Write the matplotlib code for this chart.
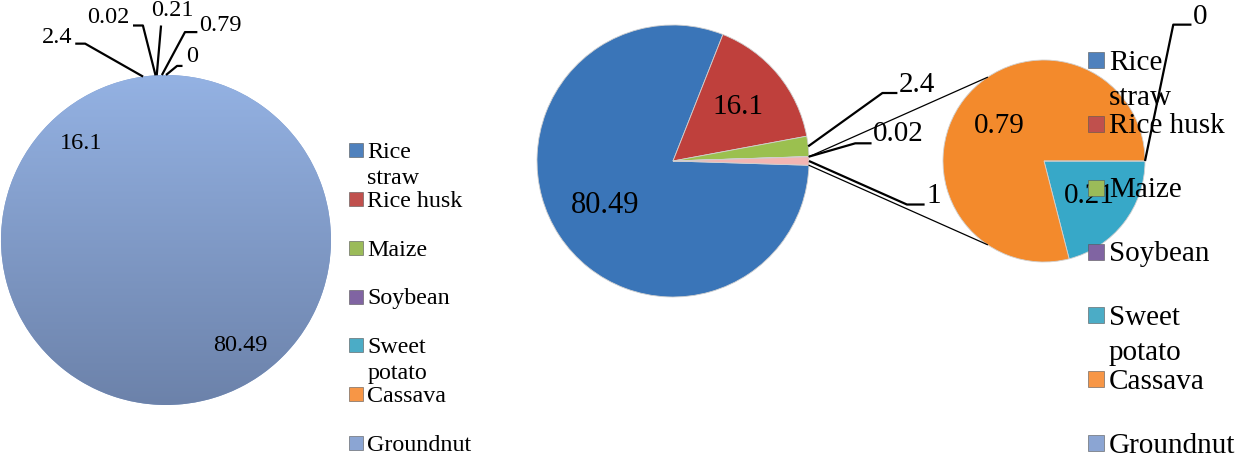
import matplotlib.pyplot as plt
import numpy as np
from matplotlib.patches import ConnectionPatch, Circle
from matplotlib.colors import LinearSegmentedColormap

plt.rcParams['font.family'] = ['Liberation Serif', 'DejaVu Serif']

# crop residue shares (%)
crops = ["Rice straw", "Rice husk", "Maize", "Soybean", "Sweet potato", "Cassava", "Groundnut"]
legend_text = ["Rice\nstraw", "Rice husk", "Maize", "Soybean", "Sweet\npotato", "Cassava", "Groundnut"]
shares = [80.49, 16.1, 2.4, 0.02, 0.21, 0.79, 0]
legend_colors = ["#4F81BD", "#C0504D", "#9BBB59", "#8064A2", "#4BACC6", "#F79646", "#8BA5D3"]

# left chart: every slice came out in the groundnut colour
left_color = "#809DCB"

# right chart: pie of pie, the last three crops grouped as "other"
main_values = [80.49, 16.1, 2.4, 0.02, 1]
main_colors = ["#3A75B8", "#BF403C", "#9BC04F", "#7F60A4", "#F3B5B3"]
sub_values = [0.21, 0.79, 0]
sub_colors = ["#37A8C8", "#F38A2C", "#8EA6D4"]

W, H = 1249, 457
fig = plt.figure(figsize=(W / 100, H / 100), dpi=100)


def pie_axes(cx, cy, r):
    # square axes centred on (cx, cy) in pixels, unit radius = r px
    return fig.add_axes([(cx - r) / W, (H - cy - r) / H, 2 * r / W, 2 * r / H])


def finish(ax):
    ax.set_xlim(-1, 1)
    ax.set_ylim(-1, 1)
    ax.set_aspect('equal')
    ax.axis('off')


def point(w, r=1.0, ang=None):
    if ang is None:
        ang = (w.theta1 + w.theta2) / 2
    a = np.deg2rad(ang)
    return r * np.cos(a), r * np.sin(a)


def leader(ax, w, elbow, hx, txt_xy, ha, fs):
    px, py = point(w)
    ax.plot([px, elbow[0], hx], [py, elbow[1], elbow[1]], color='black', lw=1.6,
            clip_on=False, solid_capstyle='butt')
    ax.text(txt_xy[0], txt_xy[1], f"{w.value:g}", ha=ha, va='center', fontsize=fs)


# ---- left pie ----
ax1 = pie_axes(166, 240, 165)
w1, _ = ax1.pie(shares, colors=[left_color] * len(shares), startangle=90,
                counterclock=False, radius=1, wedgeprops=dict(linewidth=0))
for w, v in zip(w1, shares):
    w.value = v
# soft top-to-bottom shading over the whole disc
grad = np.linspace(0, 1, 256).reshape(-1, 1)
cmap = LinearSegmentedColormap.from_list("g", ["#94B2E3", "#6C82AA"])
disc = Circle(w1[0].center, w1[0].r, transform=ax1.transData)
im = ax1.imshow(grad, extent=(-1, 1, -1, 1), cmap=cmap, aspect='auto', zorder=2)
im.set_clip_path(disc)
finish(ax1)
for i in (0, 1):
    x, y = point(w1[i], 0.78)
    ax1.text(x, y, f"{shares[i]:g}", ha='center', va='center', fontsize=17.5, zorder=3)
left_leaders = [
    (2, (-0.49, 1.19), -0.55, (-0.57, 1.23), 'right'),
    (3, (-0.14, 1.30), -0.20, (-0.22, 1.35), 'right'),
    (4, (-0.03, 1.30), -0.03, (0.04, 1.39), 'center'),
    (5, (0.115, 1.26), 0.19, (0.20, 1.30), 'left'),
    (6, (0.067, 1.055), 0.10, (0.12, 1.11), 'left'),
]
for i, elbow, hx, txt, ha in left_leaders:
    leader(ax1, w1[i], elbow, hx, txt, ha, 17.5)

# ---- right: main pie ----
ax2 = pie_axes(673, 161, 136)
# rotate so the "other" slice points to the right
other_span = 360 * main_values[-1] / sum(main_values)
w2, _ = ax2.pie(main_values, colors=main_colors, startangle=-other_span / 2,
                counterclock=False, radius=1,
                wedgeprops=dict(linewidth=0.6, edgecolor='#d0d0d0'))
for w, v in zip(w2, main_values):
    w.value = v
finish(ax2)
x, y = point(w2[0], 0.6)
ax2.text(x, y, f"{main_values[0]:g}", ha='center', va='center', fontsize=22)
x, y = point(w2[1], 0.62)
ax2.text(x, y, f"{main_values[1]:g}", ha='center', va='center', fontsize=21)
main_leaders = [
    (2, (1.54, 0.50), 1.65, (1.66, 0.56), 'left'),
    (3, (1.34, 0.13), 1.46, (1.47, 0.20), 'left'),
    (4, (1.72, -0.32), 1.85, (1.86, -0.26), 'left'),
]
for i, elbow, hx, txt, ha in main_leaders:
    leader(ax2, w2[i], elbow, hx, txt, ha, 21)

# ---- right: secondary pie ----
ax3 = pie_axes(1044, 161, 101)
w3, _ = ax3.pie(sub_values, colors=sub_colors, startangle=0, counterclock=False,
                radius=1, wedgeprops=dict(linewidth=0.6, edgecolor='#d0d0d0'))
for w, v in zip(w3, sub_values):
    w.value = v
finish(ax3)
for i in (0, 1):
    x, y = point(w3[i], 0.565)
    ax3.text(x, y, f"{sub_values[i]:g}", ha='center', va='center', fontsize=21)
leader(ax3, w3[2], (1.28, 1.35), 1.46, (1.47, 1.43), 'left', 21)

# connector lines between the "other" slice and the secondary pie
other = w2[-1]
for ang_main, ang_sub in ((other.theta2, 124), (other.theta1, 236)):
    con = ConnectionPatch(xyA=point(other, 1.0, ang_main), coordsA=ax2.transData,
                          xyB=point(None, 1.0, ang_sub), coordsB=ax3.transData,
                          color='black', lw=0.9)
    fig.add_artist(con)

# ---- legends ----
lax = fig.add_axes([0, 0, 1, 1], zorder=5)
lax.set_xlim(0, W)
lax.set_ylim(H, 0)
lax.axis('off')


def legend(x, y0, y1, box_px, fs, line_px):
    ys = np.linspace(y0, y1, len(crops))
    em = fs / 0.72
    for y, lab, c in zip(ys, legend_text, legend_colors):
        lax.scatter(x, y, marker='s', s=(box_px * 0.72) ** 2, color=c,
                    edgecolors='#555555', linewidths=0.4)
        for k, part in enumerate(lab.split("\n")):
            lax.text(x + box_px * 0.8, y + 0.33 * em + k * line_px, part, fontsize=fs,
                     va='baseline', ha='left')


legend(356, 150, 443, 14, 17.3, 26)
legend(1096, 60, 443, 16, 21, 35)

fig.savefig("out.png", dpi=100)
